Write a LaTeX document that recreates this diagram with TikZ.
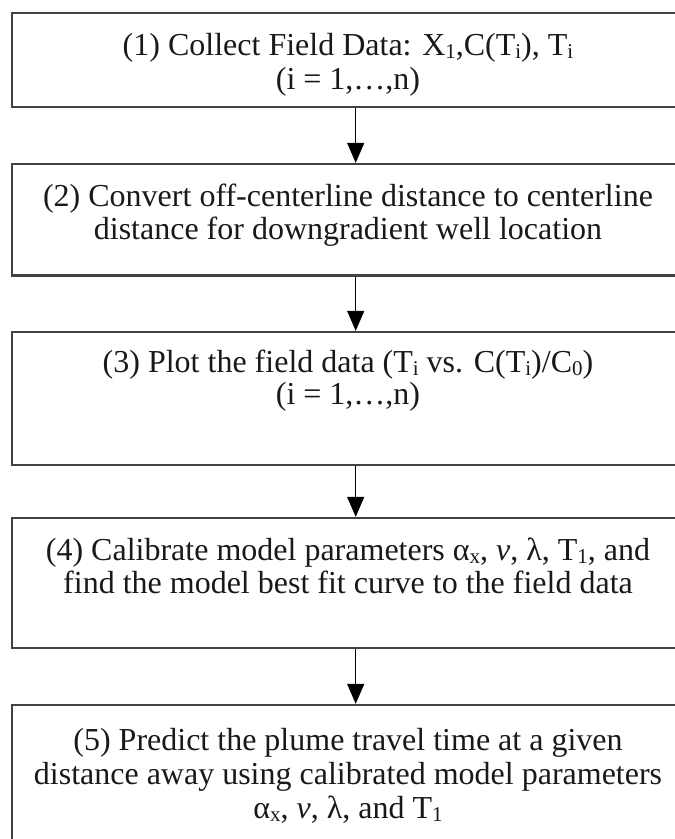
\documentclass[tikz,border=0pt]{standalone}
\usepackage{fontspec}
\setmainfont{Liberation Serif}
\usetikzlibrary{arrows.meta}
% small lowered subscript in the style of a word processor
\newcommand{\subs}[1]{\raisebox{-0.12em}{\fontsize{21}{21}\selectfont #1}}
\begin{document}
\begin{tikzpicture}[x=1pt,y=-1pt,
  box/.style={draw=black!74, line width=2.3pt, rectangle, inner sep=0pt,
              minimum width=671.5pt},
  txt/.style={align=center, inner sep=0pt, text=black!90},
  lead/.style={font=\fontsize{32}{#1}\selectfont},
  arr/.style={line width=1.3pt, draw=black,
              -{Triangle[width=17pt,length=20pt]}}]
\useasboundingbox (0,0) rectangle (675,839);
\clip (0,0) rectangle (675,839);

% process boxes (top edge, bottom edge)
\node[box, minimum height=94.3pt]  (b1) at (348, 59.85) {};
\node[box, minimum height=111.5pt] (b2) at (348, 219.75) {};
\node[box, minimum height=133pt]   (b3) at (348, 398.5) {};
\node[box, minimum height=130pt]   (b4) at (348, 583) {};
\node[box, minimum height=180pt]   (b5) at (348, 795) {};

% box texts, placed by the baseline of their last line
\node[txt, lead=34, anchor=base] (t1) at (348, 89) {(1) Collect Field Data: X\subs{1},C(T\subs{i}), T\subs{i}\\(i = 1,…,n)};
\node[txt, lead=33, anchor=base] (t2) at (348, 239) {(2) Convert off-centerline distance to centerline\\distance for downgradient well location};
\node[txt, lead=32, anchor=base] (t3) at (348, 404) {(3) Plot the field data (T\subs{i} vs. C(T\subs{i})/C\subs{0})\\(i = 1,…,n)};
\node[txt, lead=33, anchor=base] (t4) at (348, 593) {(4) Calibrate model parameters α\subs{x}, \textit{v}, λ, T\subs{1}, and\\find the model best fit curve to the field data};
\node[txt, lead=34, anchor=base] (t5) at (348, 818) {(5) Predict the plume travel time at a given\\distance away using calibrated model parameters\\α\subs{x}, \textit{v}, λ, and T\subs{1}};

% connectors run down a common vertical line
\coordinate (ax) at (355.7,0);
\draw[arr] (b1.south -| ax) -- (b2.north -| ax);
\draw[arr] (b2.south -| ax) -- (b3.north -| ax);
\draw[arr] (b3.south -| ax) -- (b4.north -| ax);
\draw[arr] (b4.south -| ax) -- (b5.north -| ax);
\end{tikzpicture}
\end{document}
